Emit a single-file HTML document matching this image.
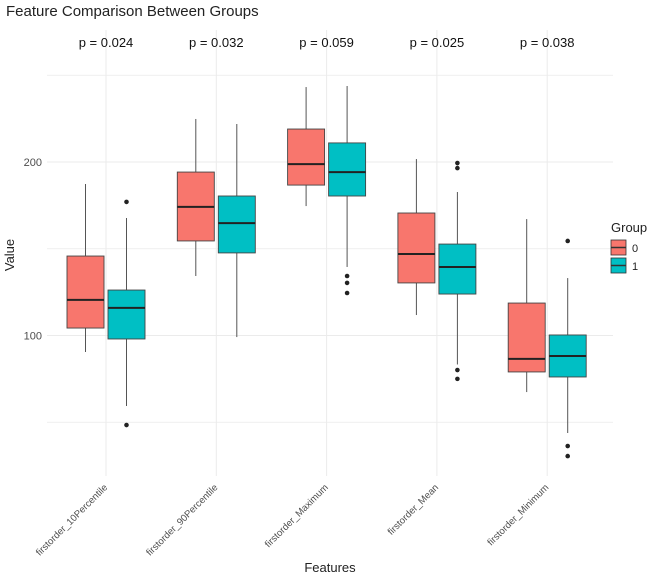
<!DOCTYPE html>
<html><head><meta charset="utf-8"><style>
body{margin:0;background:#fff;font-family:"Liberation Sans",sans-serif}
svg text{font-family:"Liberation Sans",sans-serif}
</style></head><body>
<svg id="chart" width="669" height="576" viewBox="0 0 669 576" xmlns="http://www.w3.org/2000/svg">
<text x="6" y="16" font-size="15" fill="#222">Feature Comparison Between Groups</text>
<g id="grid"></g>
<g id="ylab"></g>
<g id="xlab"></g>
<g id="pvals"></g>
<g id="boxes"></g>
<text x="14" y="255" font-size="13" fill="#222" transform="rotate(-90 14 255)" text-anchor="middle">Value</text>
<text x="330" y="572" font-size="13" fill="#222" text-anchor="middle">Features</text>
<g>
<text x="611" y="232" font-size="13" fill="#222">Group</text>
<rect x="611" y="240" width="15" height="15" fill="#F8766D" stroke="#333" stroke-width="0.8"/>
<line x1="611" y1="247.5" x2="626" y2="247.5" stroke="#333" stroke-width="1.5"/>
<text x="632" y="252" font-size="11" fill="#222">0</text>
<rect x="611" y="258" width="15" height="15" fill="#00BFC4" stroke="#333" stroke-width="0.8"/>
<line x1="611" y1="265.5" x2="626" y2="265.5" stroke="#333" stroke-width="1.5"/>
<text x="632" y="270" font-size="11" fill="#222">1</text>
</g>
</svg>
<script>
const categories=["firstorder_10Percentile","firstorder_90Percentile","firstorder_Maximum","firstorder_Mean","firstorder_Minimum"];
const pValues=["p = 0.024","p = 0.032","p = 0.059","p = 0.025","p = 0.038"];
// [low, q1, median, q3, high]
const group0=[[90.5,104.3,120.5,145.8,187.3],[134.3,154.5,174.1,194.2,224.8],[174.6,186.7,198.8,219,243.2],[111.8,130.3,147,170.6,201.7],[67.4,79,86.5,118.7,167.1]];
const group1=[[59.4,98,115.9,126.2,167.7],[99.1,147.6,164.8,180.4,221.9],[139.5,180.4,194.2,211,243.8],[83.3,123.9,139.5,152.7,182.7],[43.8,76.1,88.2,100.3,133.1]];
const outliers0=[[],[],[],[],[]];
const outliers1=[[177,48.4],[],[134.3,130.3,124.5],[199.4,196.5,80.1,75],[154.5,36.3,30.5]];
const yTicks=[100,200];
const yGrid=[50,100,150,200,250];
const NS="http://www.w3.org/2000/svg";
const yS=v=>162-(v-200)*1.735;
const xS=i=>106+i*110.3;
const L=47,R=613,T=30,B=476;
function mk(tag,attrs,parent){const e=document.createElementNS(NS,tag);for(const k in attrs)e.setAttribute(k,attrs[k]);parent.appendChild(e);return e;}
const grid=document.getElementById('grid');
yGrid.forEach(v=>{const l=mk('line',{x1:L,x2:R,y1:yS(v),y2:yS(v),stroke:'#ebebeb','stroke-width':v%100===0?1:0.7},grid);

});
categories.forEach((c,i)=>{const l=mk('line',{x1:xS(i),x2:xS(i),y1:T,y2:B,stroke:'#ebebeb','stroke-width':1},grid);

});
const ylab=document.getElementById('ylab');
yTicks.forEach(v=>{const t=mk('text',{x:42,y:yS(v)+4,'font-size':11,fill:'#4d4d4d','text-anchor':'end'},ylab);t.textContent=v;

});
const xlab=document.getElementById('xlab');
categories.forEach((c,i)=>{const x=xS(i)+2,y=488;const t=mk('text',{x:x,y:y,'font-size':9.6,fill:'#4d4d4d','text-anchor':'end',transform:`rotate(-45 ${x} ${y})`},xlab);t.textContent=c;

});
const pv=document.getElementById('pvals');
pValues.forEach((p,i)=>{const t=mk('text',{x:xS(i),y:47,'font-size':13,fill:'#111','text-anchor':'middle'},pv);t.textContent=p;

});
const boxes=document.getElementById('boxes');
function drawBox(s,cx,fill,outs,name){
 const g=mk('g',{},boxes);
 
 
 const w=37;
 mk('line',{x1:cx,x2:cx,y1:yS(s[4]),y2:yS(s[3]),stroke:'#555','stroke-width':1},g);
 mk('line',{x1:cx,x2:cx,y1:yS(s[1]),y2:yS(s[0]),stroke:'#555','stroke-width':1},g);
 mk('rect',{x:cx-w/2,y:yS(s[3]),width:w,height:yS(s[1])-yS(s[3]),fill:fill,stroke:'#444','stroke-width':0.9},g);
 mk('line',{x1:cx-w/2,x2:cx+w/2,y1:yS(s[2]),y2:yS(s[2]),stroke:'#222','stroke-width':2},g);
 outs.forEach(o=>mk('circle',{cx:cx,cy:yS(o),r:2.3,fill:'#222'},g));
}
categories.forEach((c,i)=>{
 drawBox(group0[i],xS(i)-20.5,'#F8766D',outliers0[i],'box-group0-'+(i+1));
 drawBox(group1[i],xS(i)+20.5,'#00BFC4',outliers1[i],'box-group1-'+(i+1));
});
</script>
</body></html>
